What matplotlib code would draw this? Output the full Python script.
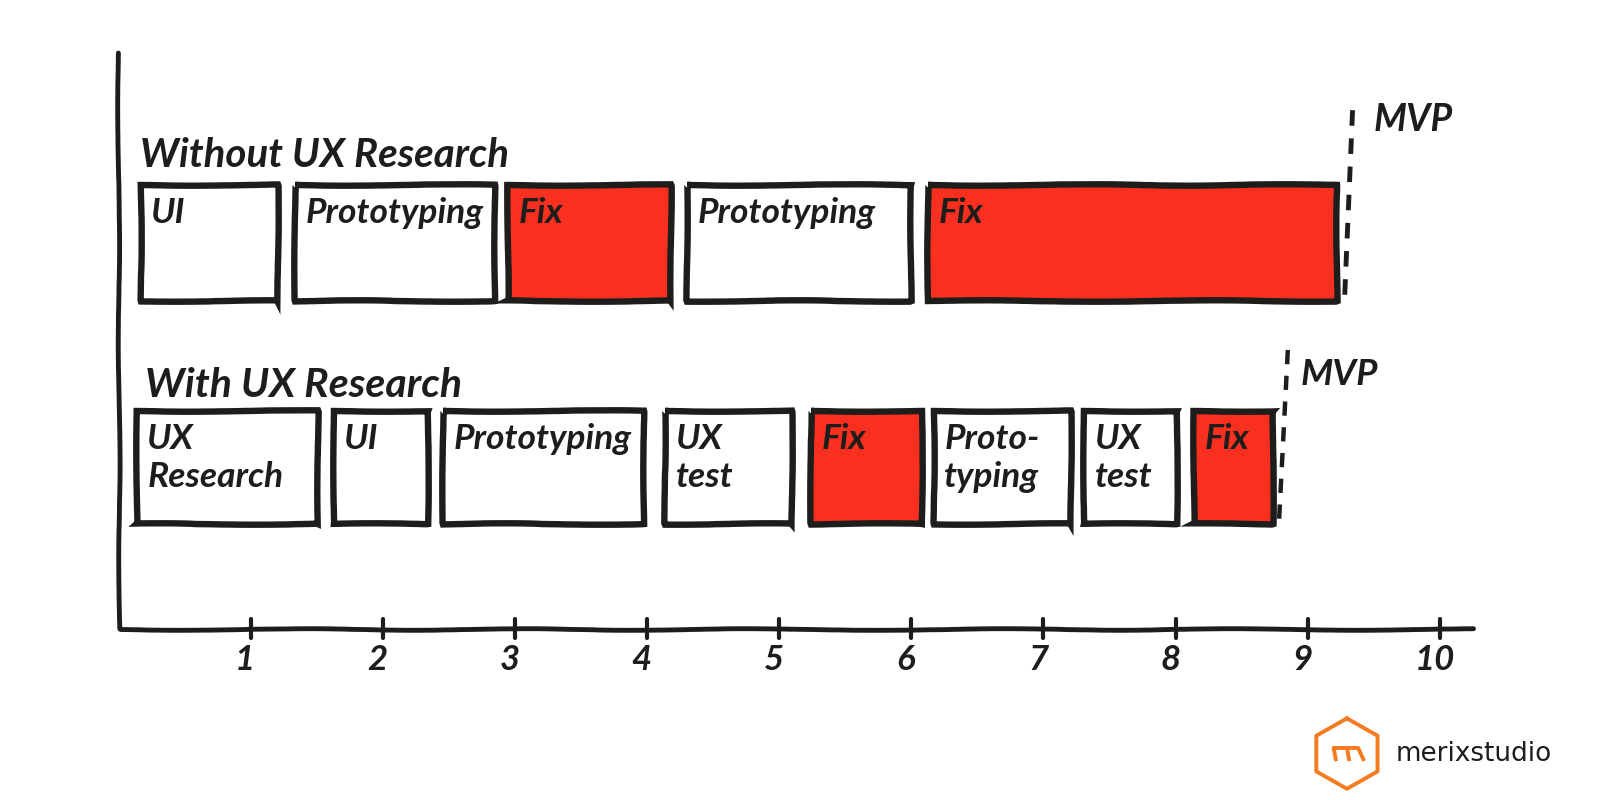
import matplotlib
matplotlib.use('Agg')
import matplotlib.pyplot as plt

INK = '#1d1d1b'
RED = '#f9301f'
ORANGE = '#f47b20'

plt.rcParams['font.family'] = ['Lato', 'DejaVu Sans']

# time along the x axis
ticks = [1, 2, 3, 4, 5, 6, 7, 8, 9, 10]

top_labels = ['UI', 'Prototyping', 'Fix', 'Prototyping', 'Fix']
top_start = [0.17, 1.34, 2.95, 4.30, 6.13]
top_end = [1.21, 2.85, 4.18, 6.00, 9.22]
top_fix = [False, False, True, False, True]

bot_labels = ['UX\nResearch', 'UI', 'Prototyping', 'UX\ntest', 'Fix', 'Proto-\ntyping', 'UX\ntest', 'Fix']
bot_start = [0.14, 1.63, 2.46, 4.14, 5.24, 6.17, 7.31, 8.14]
bot_end = [1.51, 2.34, 3.98, 5.10, 6.08, 7.21, 8.01, 8.74]
bot_fix = [False, False, False, False, True, False, False, True]

top_mvp = 9.34
bot_mvp = 8.85

fig = plt.figure(figsize=(16, 8), dpi=100)
ax = fig.add_axes([0, 0, 1, 1])
# layout measured on a 1568x784 view of the picture, x axis in chart units
ax.set_xlim(-116 / 129.5, (1568 - 116) / 129.5)
ax.set_ylim(784, 0)
ax.axis('off')


def draw_row(labels, starts, ends, fixes, y_top, y_bot, size):
    for name, s, e, fix in zip(labels, starts, ends, fixes):
        bar = ax.barh((y_top + y_bot) / 2, e - s, left=s, height=y_bot - y_top,
                      color=RED if fix else 'white', edgecolor=INK, linewidth=4.6)
        bar[0].set_sketch_params(scale=0.7, length=350, randomness=6)
        ax.text(s + 0.08, y_top + 12, name, fontsize=size, color=INK, style='italic',
                va='top', ha='left', fontweight='bold', linespacing=1.2)


draw_row(top_labels, top_start, top_end, top_fix, 181, 295, 25.5)
draw_row(bot_labels, bot_start, bot_end, bot_fix, 403, 514, 25.5)

ax.text(0.16, 152, 'Without UX Research', fontsize=29, style='italic', color=INK,
        va='center', fontweight='bold')
ax.text(0.2, 378, 'With UX Research', fontsize=29.5, style='italic', color=INK,
        va='center', fontweight='bold')

# MVP dashed markers
ax.plot([top_mvp, top_mvp - 0.06], [108, 291], color=INK, lw=3.5, ls=(0, (3.2, 2.6)))
ax.plot([bot_mvp, bot_mvp - 0.07], [343, 519], color=INK, lw=3.2, ls=(0, (3.2, 2.6)))
ax.text(9.5, 117, 'MVP', fontsize=27, color=INK, va='center', style='italic', fontweight='bold')
ax.text(8.95, 367, 'MVP', fontsize=26.5, color=INK, va='center', style='italic', fontweight='bold')

# hand drawn axes
y_axis, = ax.plot([0, 0.01], [52, 616], color=INK, lw=3.5, solid_capstyle='round')
x_axis, = ax.plot([0.01, 10.25], [616, 616], color=INK, lw=3.5, solid_capstyle='round')
y_axis.set_sketch_params(scale=0.8, length=400, randomness=6)
x_axis.set_sketch_params(scale=0.8, length=400, randomness=6)
for t in ticks:
    ax.plot([t, t], [607, 625], color=INK, lw=3, solid_capstyle='round')
    ax.text(t - 0.04, 647, str(t), fontsize=25, color=INK, style='italic', ha='center',
            va='center', fontweight='bold')

# logo
logo = fig.add_axes([0, 0, 1, 1])
logo.set_xlim(0, 1568)
logo.set_ylim(784, 0)
logo.axis('off')
logo.patch.set_alpha(0)
logo.plot([1320, 1350, 1350, 1320, 1290, 1290, 1320], [704, 721, 756, 773, 756, 721, 704],
          color=ORANGE, lw=2.8, solid_joinstyle='round')
logo.plot([1309, 1307, 1331, 1336], [744, 733, 733, 744], color=ORANGE, lw=2.8)
logo.plot([1320, 1322], [733, 744], color=ORANGE, lw=2.8)
logo.text(1368, 739, 'merixstudio', fontsize=18.9, color=INK, va='center', ha='left',
          family='DejaVu Sans')

fig.savefig('out.png', dpi=100)
